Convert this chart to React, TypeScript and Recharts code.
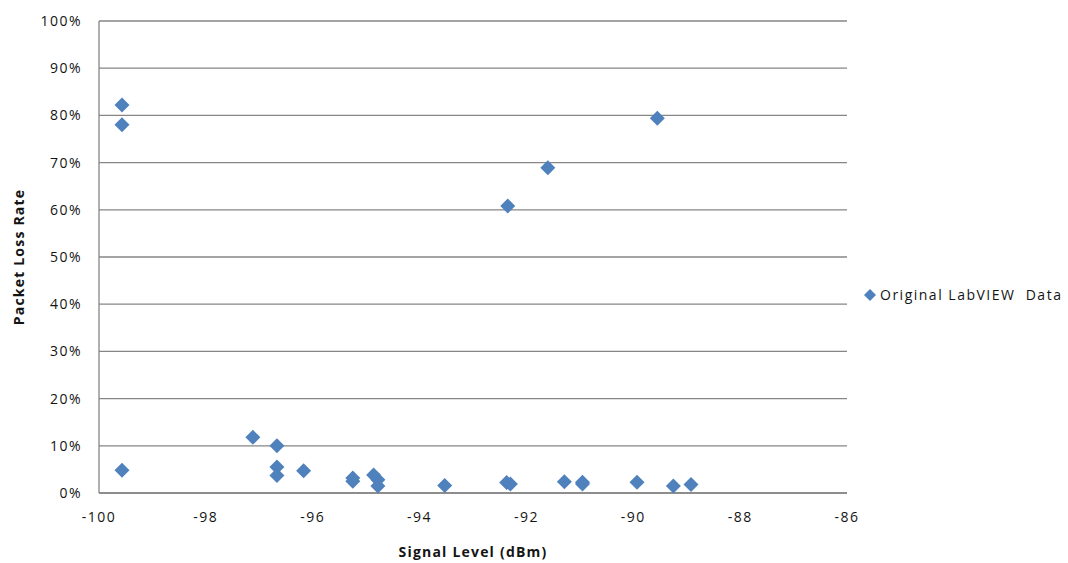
import React from 'react';
import { ScatterChart, Scatter, XAxis, YAxis, CartesianGrid, Legend, Label } from 'recharts';

const signalLevels = [-99.57, -99.57, -99.57, -97.12, -96.67, -96.67, -96.67, -96.17, -95.25, -95.25, -94.86, -94.78, -94.78, -93.53, -92.37, -92.3, -92.35, -91.6, -91.29, -90.95, -90.95, -89.93, -89.55, -89.25, -88.92];
const lossRates = [0.822, 0.78, 0.048, 0.118, 0.1, 0.055, 0.037, 0.047, 0.032, 0.025, 0.038, 0.028, 0.015, 0.016, 0.022, 0.019, 0.608, 0.689, 0.024, 0.023, 0.019, 0.023, 0.794, 0.015, 0.018];
const xTicks = [-100, -98, -96, -94, -92, -90, -88, -86];
const yTicks = [0, 0.1, 0.2, 0.3, 0.4, 0.5, 0.6, 0.7, 0.8, 0.9, 1];
const seriesName = 'Original LabVIEW  Data';
const xTitle = 'Signal Level (dBm)';
const yTitle = 'Packet Loss Rate';

const data = signalLevels.map((x, i) => ({ x, y: lossRates[i] }));

const BLUE = '#4F81BD';
const GRID = '#868686';
const FONT = '"Open Sans", "Liberation Sans", sans-serif';
const TEXT = '#141414';

const Diamond = (props: any) => {
  const { cx, cy } = props;
  const r = 7.5;
  return <polygon points={`${cx},${cy - r} ${cx + r},${cy} ${cx},${cy + r} ${cx - r},${cy}`} fill={BLUE} />;
};

const YTitle = (props: any) => {
  const vb = props.viewBox || {};
  const cx = vb.x - 22;
  const cy = vb.y + vb.height / 2;
  return (
    <text x={cx} y={cy} transform={`rotate(-90, ${cx}, ${cy})`} textAnchor="middle" dominantBaseline="central"
      fontFamily={FONT} fontSize={14} fontWeight="bold" letterSpacing={1.2} fill={TEXT}>{yTitle}</text>
  );
};

const XTitle = (props: any) => {
  const vb = props.viewBox || {};
  const cx = vb.x + vb.width / 2;
  const cy = vb.y + 58;
  return (
    <text x={cx} y={cy} textAnchor="middle" dominantBaseline="central"
      fontFamily={FONT} fontSize={14} fontWeight="bold" letterSpacing={1.2} fill={TEXT}>{xTitle}</text>
  );
};

const LegendContent = () => (
  <div style={{ display: 'flex', alignItems: 'center', fontFamily: FONT, fontSize: 14, letterSpacing: 1.5, color: TEXT, whiteSpace: 'pre' }}>
    <svg width={14} height={14} style={{ marginRight: 3 }}>
      <polygon points="7,1 13,7 7,13 1,7" fill={BLUE} />
    </svg>
    <span>{seriesName}</span>
  </div>
);

const tickStyle = { fontFamily: FONT, fontSize: 14, fill: TEXT, letterSpacing: 1.5 };

export default function App() {
  return (
    <div style={{ position: 'absolute', left: 0, top: 0, width: 1068, height: 563, background: '#fff' }}>
      <ScatterChart width={1068} height={563} margin={{ top: 21, right: 221, bottom: 30, left: 40 }}>
        <CartesianGrid vertical={false} stroke={GRID} strokeWidth={1.3} />
        <XAxis type="number" dataKey="x" domain={[-100, -86]} ticks={xTicks} height={40}
          axisLine={{ stroke: GRID, strokeWidth: 1.3 }} tickLine={false} tickSize={0} tickMargin={19}
          tick={tickStyle} allowDataOverflow>
          <Label content={XTitle} />
        </XAxis>
        <YAxis type="number" dataKey="y" domain={[0, 1]} ticks={yTicks} width={59}
          tickFormatter={(v: number) => `${Math.round(v * 100)}%`}
          axisLine={{ stroke: GRID, strokeWidth: 1.3 }} tickLine={false} tickSize={0} tickMargin={17}
          tick={tickStyle}>
          <Label content={YTitle} />
        </YAxis>
        <Legend layout="vertical" align="center" verticalAlign="middle" content={LegendContent}
          wrapperStyle={{ left: 863, top: 285, width: 210, height: 20 }} />
        <Scatter name={seriesName} data={data} fill={BLUE} shape={Diamond} isAnimationActive={false} />
      </ScatterChart>
    </div>
  );
}
